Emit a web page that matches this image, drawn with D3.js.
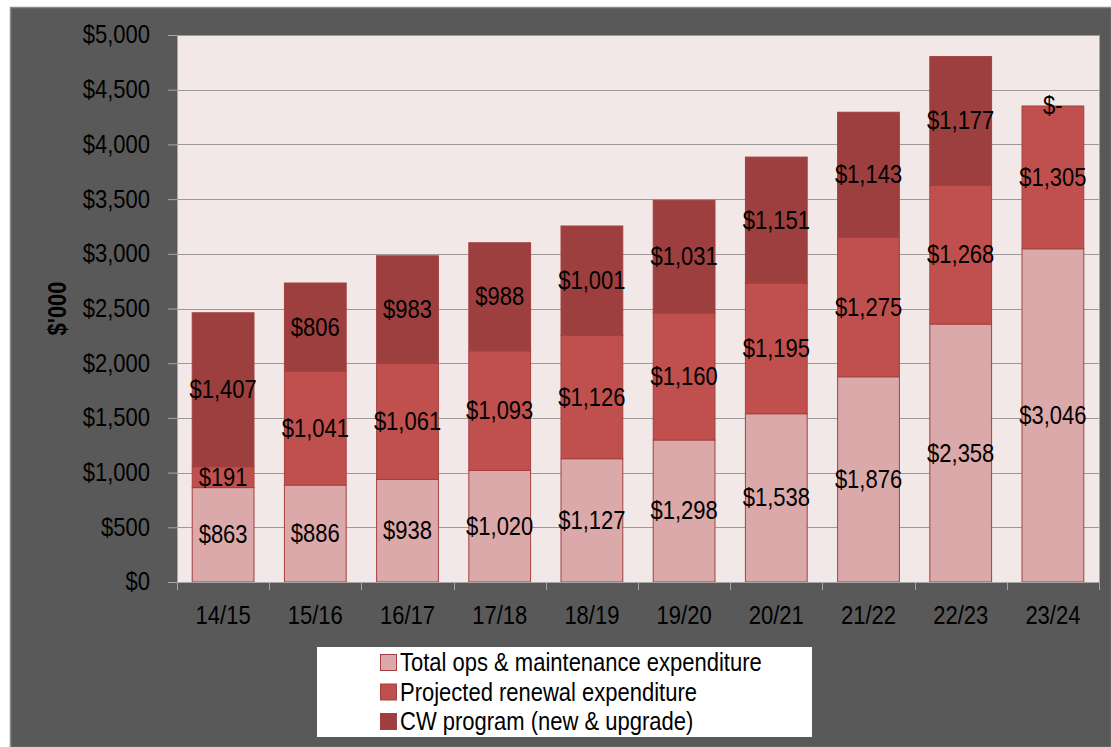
<!DOCTYPE html>
<html><head><meta charset="utf-8">
<script src="https://cdn.jsdelivr.net/npm/d3@7"></script>
<style>
html,body{margin:0;padding:0;background:#fff;}
svg{display:block;}
text{font-family:"Liberation Sans",Arial,sans-serif;}
</style></head>
<body>
<svg id="chart" width="1111" height="747"></svg>
<script>
const categories = ["14/15","15/16","16/17","17/18","18/19","19/20","20/21","21/22","22/23","23/24"];
const opsValues = [863, 886, 938, 1020, 1127, 1298, 1538, 1876, 2358, 3046];
const renewalValues = [191, 1041, 1061, 1093, 1126, 1160, 1195, 1275, 1268, 1305];
const cwValues = [1407, 806, 983, 988, 1001, 1031, 1151, 1143, 1177, 0];
const seriesNames = ["Total ops & maintenance expenditure","Projected renewal expenditure","CW program (new & upgrade)"];
const seriesKeys = ["ops","renewal","cw"];
const yTicks = [0,500,1000,1500,2000,2500,3000,3500,4000,4500,5000];
const colors = ["#dba9a9","#c0504d","#9c3f3e"];

const svg = d3.select("#chart");
const W = 1111, H = 747;
const plot = {x0:177, x1:1099, y0:35, y1:582};
const fontSize = 25;
const sx = 0.88;

function label(g, x, y, str, anchor, opts) {
  opts = opts || {};
  const t = g.append("text")
    .attr("transform", `translate(${x},${y})` + (opts.rotate ? ` rotate(${opts.rotate})` : "") + ` scale(${sx},1)`)
    .attr("text-anchor", anchor).attr("dominant-baseline","central")
    .attr("font-size", opts.size || fontSize).attr("fill","#000").text(str);
  if (opts.bold) t.attr("font-weight","bold");
  return t;
}

// outer background
svg.append("rect").attr("x",10.5).attr("y",7.5).attr("width",W-10).attr("height",H-7)
  .attr("fill","#595959").attr("stroke","#8a8a8a").attr("stroke-width",1.5);

const data = categories.map((c,i)=>({cat:c, ops:opsValues[i], renewal:renewalValues[i], cw:cwValues[i]}));
const stack = d3.stack().keys(seriesKeys)(data);

const x = d3.scaleBand().domain(categories).range([plot.x0, plot.x1]).paddingInner(0.33).paddingOuter(0.165);
const y = d3.scaleLinear().domain([0,5000]).range([plot.y1, plot.y0]);

// plot background
svg.append("rect").attr("x",plot.x0).attr("y",plot.y0).attr("width",plot.x1-plot.x0).attr("height",plot.y1-plot.y0)
  .attr("fill","#f2e8e8");

// gridlines
svg.append("g").selectAll("line").data(yTicks.filter(d=>d>0)).join("line")
  .attr("x1",plot.x0).attr("x2",plot.x1).attr("y1",d=>Math.round(y(d))+0.5).attr("y2",d=>Math.round(y(d))+0.5)
  .attr("stroke","#9a9a9a").attr("stroke-width",1.2);

// right border of plot
svg.append("line").attr("x1",plot.x1+0.5).attr("x2",plot.x1+0.5).attr("y1",plot.y0).attr("y2",plot.y1)
  .attr("stroke","#a6a6a6").attr("stroke-width",1);

// bars
const layers = svg.append("g").selectAll("g").data(stack).join("g")
  .attr("fill",(d,i)=>colors[i]);
layers.selectAll("rect").data(d=>d).join("rect")
  .attr("x",d=>x(d.data.cat)).attr("width",x.bandwidth())
  .attr("y",d=>y(d[1])).attr("height",d=>Math.max(0,y(d[0])-y(d[1])))
  .attr("stroke","#a3403f").attr("stroke-width",1);

// value labels
const fmt = v => v===0 ? "$-" : "$" + d3.format(",")(v);
const gl = svg.append("g");
stack.forEach(layer=>{
  layer.forEach(d=>{
    label(gl, x(d.data.cat)+x.bandwidth()/2, (y(d[0])+y(d[1]))/2, fmt(d[1]-d[0]), "middle");
  });
});

// y axis
const yAxis = d3.axisLeft(y).tickValues(yTicks).tickSize(9).tickFormat("");
const gy = svg.append("g").attr("transform",`translate(${plot.x0},0)`).call(yAxis);
gy.select(".domain").attr("stroke","#a6a6a6");
gy.selectAll(".tick line").attr("stroke","#a6a6a6");
const gyl = svg.append("g");
yTicks.forEach(v=>label(gyl, 150, y(v), "$"+d3.format(",")(v), "end"));

// x axis
const xAxis = d3.axisBottom(x).tickSize(0).tickFormat("");
const gx = svg.append("g").attr("transform",`translate(0,${plot.y1})`).call(xAxis);
gx.select(".domain").attr("stroke","#a6a6a6");
const bounds = d3.range(categories.length+1).map(i=>plot.x0 + i*(plot.x1-plot.x0)/categories.length);
gx.append("g").selectAll("line").data(bounds).join("line")
  .attr("x1",d=>Math.round(d)+0.5).attr("x2",d=>Math.round(d)+0.5).attr("y1",0).attr("y2",8)
  .attr("stroke","#a6a6a6");
const gxl = svg.append("g");
categories.forEach(c=>label(gxl, x(c)+x.bandwidth()/2, 616, c, "middle"));

// y title
label(svg, 58, (plot.y0+plot.y1)/2, "$'000", "middle", {rotate:-90, bold:true, size:25});

// legend
const lg = svg.append("g");
lg.append("rect").attr("x",317).attr("y",647).attr("width",495).attr("height",90).attr("fill","#fff");
seriesNames.forEach((n,i)=>{
  const cy = 663 + i*29.5;
  lg.append("rect").attr("x",380.5).attr("y",cy-8.5).attr("width",16).attr("height",16)
    .attr("fill",colors[i]).attr("stroke","#a3403f").attr("stroke-width",1);
  label(lg, 400, cy, n, "start");
});
</script>
</body></html>
